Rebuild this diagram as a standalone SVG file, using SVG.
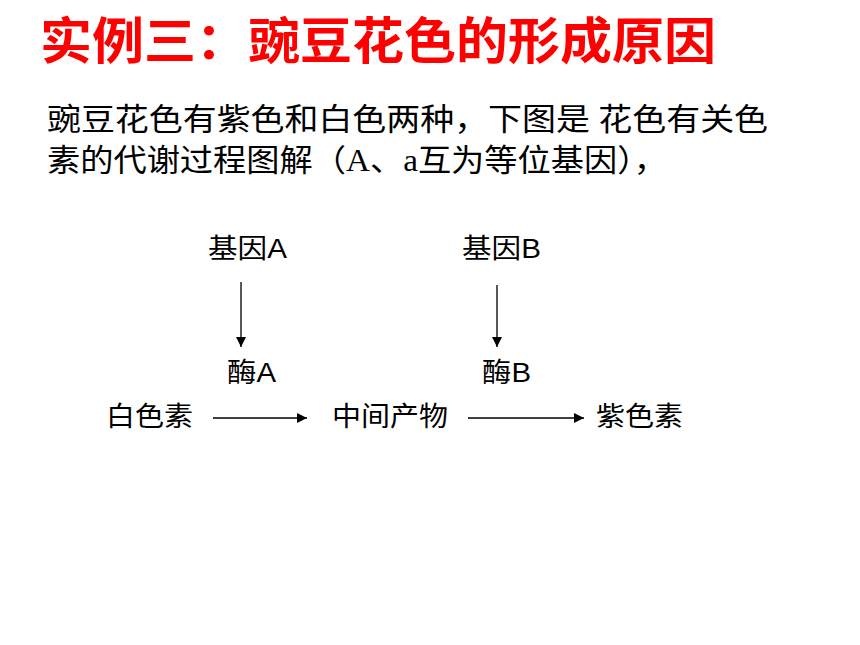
<svg xmlns="http://www.w3.org/2000/svg" width="860" height="645" viewBox="0 0 860 645">
<style>
.title{font-family:"Noto Sans CJK SC","Liberation Serif",sans-serif;font-size:50px;font-weight:bold;fill:#ff0000}
.body{font-family:"Liberation Serif","Noto Sans CJK SC",serif;font-size:31px;fill:#000}
.lbl{font-family:"Liberation Sans","Noto Sans CJK SC",sans-serif;font-size:27px;fill:#000}
.conn{stroke:#000;stroke-width:1.3;fill:none}
</style>
<defs>
<marker id="ah" viewBox="0 0 10 10" refX="10" refY="5" markerWidth="10" markerHeight="10" markerUnits="userSpaceOnUse" orient="auto">
<path d="M0,0 L10,5 L0,10 z" fill="#000"/>
</marker>
</defs>
<rect width="860" height="645" fill="#fff"/>
<text class="title" x="40" y="59" textLength="676" lengthAdjust="spacingAndGlyphs">实例三：豌豆花色的形成原因</text>
<text class="body" x="47" y="130" textLength="721" lengthAdjust="spacingAndGlyphs">豌豆花色有紫色和白色两种，下图是 花色有关色</text>
<text class="body" x="47" y="171" textLength="620" lengthAdjust="spacingAndGlyphs">素的代谢过程图解（A、a互为等位基因），</text>
<g id="geneA"><text class="lbl" x="208" y="258" textLength="79" lengthAdjust="spacingAndGlyphs">基因A</text></g>
<g id="geneB"><text class="lbl" x="462" y="258" textLength="79" lengthAdjust="spacingAndGlyphs">基因B</text></g>
<g id="enzymeA"><text class="lbl" x="227" y="382" textLength="49" lengthAdjust="spacingAndGlyphs">酶A</text></g>
<g id="enzymeB"><text class="lbl" x="482" y="382" textLength="49" lengthAdjust="spacingAndGlyphs">酶B</text></g>
<g id="white"><text class="lbl" x="106" y="426" textLength="87" lengthAdjust="spacingAndGlyphs">白色素</text></g>
<g id="middle"><text class="lbl" x="332" y="426" textLength="116" lengthAdjust="spacingAndGlyphs">中间产物</text></g>
<g id="purple"><text class="lbl" x="596" y="426" textLength="87" lengthAdjust="spacingAndGlyphs">紫色素</text></g>
<g id="connectors">
<line class="conn" x1="241" y1="282" x2="241" y2="347" marker-end="url(#ah)"/>
<line class="conn" x1="497" y1="285" x2="497" y2="347" marker-end="url(#ah)"/>
<line class="conn" x1="213" y1="418" x2="307" y2="418" marker-end="url(#ah)"/>
<line class="conn" x1="468" y1="418" x2="584" y2="418" marker-end="url(#ah)"/>
</g>
</svg>
